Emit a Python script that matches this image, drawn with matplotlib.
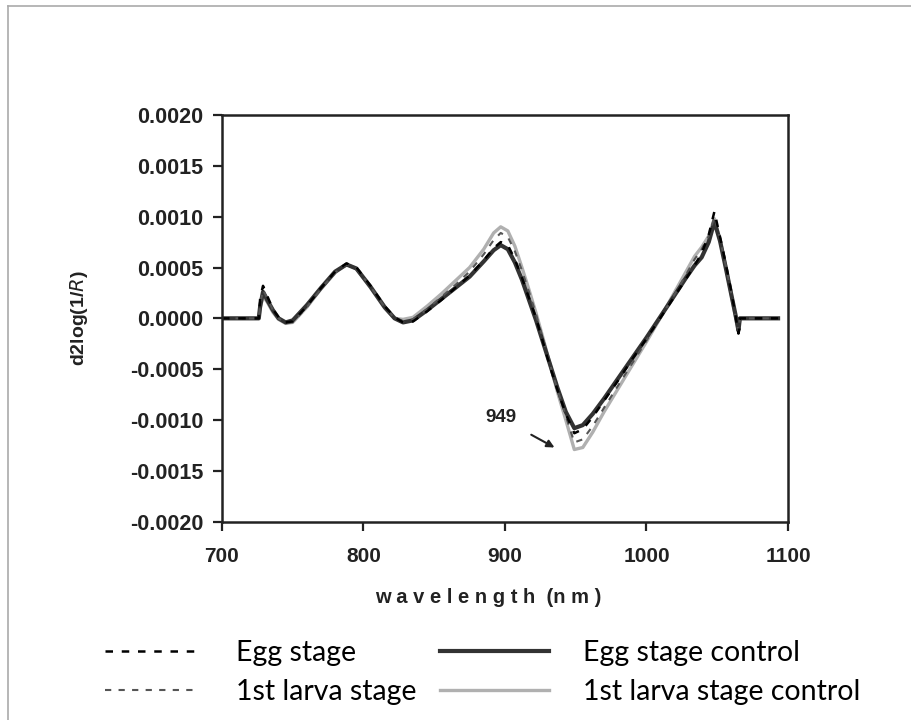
import matplotlib
matplotlib.use("Agg")
import matplotlib.pyplot as plt
from matplotlib.lines import Line2D

# wavelength (nm) and second-derivative values (units of 1e-4)
wavelength = [700, 726, 727, 729, 732, 736, 740, 745, 750, 760, 770, 780, 788, 795,
              805, 815, 822, 828, 835, 845, 855, 865, 875, 885, 892, 897, 902, 907,
              912, 917, 922, 927, 932, 937, 943, 949, 955, 962, 970, 980, 990, 1000,
              1010, 1020, 1028, 1034, 1039, 1044, 1048, 1052, 1056, 1060, 1063, 1065,
              1066, 1093]

egg_stage = [0, 0, 2.0, 3.2, 2.2, 0.9, 0.1, -0.4, -0.3, 1.2, 3.0, 4.6, 5.4, 5.0,
             3.2, 1.2, 0.1, -0.4, -0.3, 0.7, 1.8, 3.0, 4.2, 5.7, 6.9, 7.5, 7.2, 5.8,
             4.0, 2.0, 0.0, -2.4, -4.8, -7.0, -9.4, -11.3, -10.9, -9.7, -8.1, -6.1,
             -4.0, -2.0, 0.1, 2.2, 3.9, 5.2, 6.4, 8.2, 10.5, 8.0, 5.4, 2.6, 0.2, -1.5,
             0, 0]

larva_stage = [0, 0, 1.4, 2.8, 2.0, 0.8, 0.0, -0.5, -0.4, 1.1, 2.9, 4.5, 5.3, 4.9,
               3.1, 1.1, 0.0, -0.3, -0.1, 0.9, 2.1, 3.3, 4.6, 6.3, 7.7, 8.4, 8.0, 6.6,
               4.7, 2.6, 0.4, -2.1, -4.6, -7.0, -9.6, -12.2, -11.9, -10.6, -8.8, -6.6,
               -4.4, -2.2, 0.1, 2.4, 4.3, 5.8, 6.8, 8.1, 10.0, 7.8, 5.2, 2.4, 0.1, -1.3,
               0, 0]

egg_control = [0, 0, 1.2, 2.6, 1.8, 0.8, 0.0, -0.4, -0.2, 1.3, 3.0, 4.6, 5.3, 4.9,
               3.1, 1.1, 0.0, -0.4, -0.2, 0.8, 1.9, 3.0, 4.1, 5.6, 6.7, 7.2, 6.8, 5.5,
               3.8, 1.8, -0.2, -2.4, -4.6, -6.8, -9.2, -10.8, -10.5, -9.4, -7.9, -5.9,
               -3.9, -1.9, 0.2, 2.3, 4.0, 5.2, 6.0, 7.5, 9.5, 7.6, 5.0, 2.3, 0.3, -1.2,
               0, 0]

larva_control = [0, 0, 1.0, 2.2, 1.6, 0.6, -0.1, -0.5, -0.4, 1.1, 2.9, 4.5, 5.3, 4.9,
                 3.0, 1.0, 0.0, -0.1, 0.1, 1.2, 2.4, 3.7, 5.0, 6.8, 8.4, 9.0, 8.6, 7.1,
                 5.0, 2.8, 0.5, -2.0, -4.6, -7.2, -10.0, -12.9, -12.7, -11.2, -9.2, -6.9,
                 -4.6, -2.3, 0.1, 2.6, 4.6, 6.1, 7.0, 8.1, 9.8, 7.7, 5.1, 2.3, 0.1, -1.2,
                 0, 0]

labels = ["Egg stage", "1st larva stage", "Egg stage control", "1st larva stage control"]
peak_nm = 949

def scale(vals):
    return [v * 1e-4 for v in vals]

fig = plt.figure(figsize=(9.12, 7.2), dpi=100)
ax = fig.add_axes([0.2434, 0.2754, 0.6206, 0.5649])

l3, = ax.plot(wavelength, scale(larva_control), color="#b0b0b0", lw=2.4)
l4, = ax.plot(wavelength, scale(egg_control), color="#333333", lw=3.0)
l2, = ax.plot(wavelength, scale(larva_stage), color="#555555", lw=1.5, ls=(0, (3, 3.5)))
l1, = ax.plot(wavelength, scale(egg_stage), color="black", lw=1.8, ls=(0, (3, 3.5)))

ax.set_xlim(700, 1100)
ax.set_ylim(-0.002, 0.002)
ax.set_xticks([700, 800, 900, 1000, 1100])
ax.set_yticks([-0.002, -0.0015, -0.001, -0.0005, 0, 0.0005, 0.001, 0.0015, 0.002])
ax.set_yticklabels(["%.4f" % t for t in ax.get_yticks()])
for s in ax.spines.values():
    s.set_linewidth(1.8)
    s.set_color("#222222")
ax.tick_params(direction="out", length=6.5, width=1.6, color="#222222")
ax.tick_params(axis="y", pad=7, labelsize=15.5)
ax.tick_params(axis="x", pad=12, labelsize=15)
for t in ax.get_xticklabels() + ax.get_yticklabels():
    t.set_fontweight("bold")
    t.set_fontfamily("Liberation Sans")
    t.set_color("#222222")

ax.set_xlabel("w a v e l e n g t h  (n m )", fontsize=14.5, fontweight="bold",
              family="Liberation Sans", color="#222222")
ax.xaxis.set_label_coords(0.47, -0.163)
ax.set_ylabel("d2log(1/$\\mathbf{\\it{R}}$)", fontsize=14, fontweight="bold",
              family="Liberation Sans", color="#222222")
ax.yaxis.set_label_coords(-0.233, 0.5)

ax.annotate(str(peak_nm), xy=(935, -0.00127), xytext=(897, -0.00098),
            ha="center", va="center", fontsize=13.5, fontweight="bold",
            family="Liberation Sans", color="#222222",
            arrowprops=dict(arrowstyle="-|>", color="#222222", lw=1.5,
                            shrinkA=10, shrinkB=0, mutation_scale=11))

leg_font = {"family": "Lato", "size": 20.5}
fig.legend([l1, l2], labels[:2], loc="upper left", bbox_to_anchor=(0.115, 0.111),
           frameon=False, prop=leg_font, handlelength=3.3, handletextpad=1.3,
           labelspacing=0.45, borderpad=0, borderaxespad=0)
fig.legend([l4, l3], labels[2:], loc="upper left", bbox_to_anchor=(0.482, 0.111),
           frameon=False, prop=leg_font, handlelength=3.85, handletextpad=1.2,
           labelspacing=0.45, borderpad=0, borderaxespad=0)

# faint page border
fig.add_artist(Line2D([0.009, 0.009], [0, 0.992], color="#aaaaaa", lw=1.2))
fig.add_artist(Line2D([0.009, 1.0], [0.992, 0.992], color="#aaaaaa", lw=1.2))

fig.savefig("out.png", dpi=100)
